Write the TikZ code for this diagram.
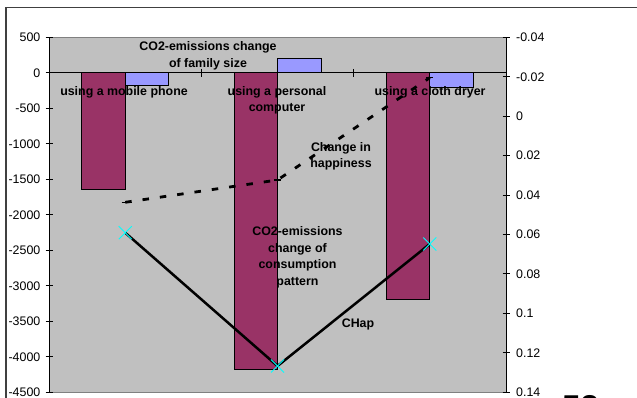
\documentclass[tikz,border=0pt]{standalone}
\usepackage{fontspec}
\setmainfont{Liberation Sans}
\definecolor{plotgray}{HTML}{C0C0C0}
\definecolor{plotedge}{HTML}{808080}
\definecolor{barmaroon}{HTML}{993366}
\definecolor{barblue}{HTML}{9999FF}
\definecolor{markcyan}{HTML}{00FFFF}
\definecolor{framecol}{HTML}{404040}
\begin{document}
\begin{tikzpicture}[x=1pt,y=-1pt,
  axisline/.style={black,line width=0.9pt},
  axislbl/.style={font=\fontsize{12.4}{14}\selectfont,inner sep=0pt},
  datalbl/.style={font=\fontsize{12.4}{16.5}\selectfont\bfseries,align=center,inner sep=0pt,anchor=north},
  barA/.style={fill=barmaroon,draw=black,line width=0.7pt},
  barB/.style={fill=barblue,draw=black,line width=0.7pt},
  hapline/.style={black,line width=2.8pt,dash pattern=on 6.5pt off 11pt},
  chapline/.style={black,line width=2.5pt,line join=round},
  xmark/.style={markcyan,line width=0.9pt},
  dashmark/.style={black,line width=1.5pt}]
\useasboundingbox (0,0) rectangle (637,398);
\clip (0,0) rectangle (637,398);

% outer frame
\draw[framecol,line width=1.6pt] (5.8,400) -- (5.8,7.6) -- (640,7.6);

% plot area
\fill[plotgray] (49,37.3) rectangle (506,392.3);
\draw[plotedge,line width=0.8pt] (49,37.3) -- (506,37.3);
\draw[plotedge,line width=0.8pt] (49,392.3) -- (506,392.3);

% bars: consumption pattern (maroon) and family size (blue)
\draw[barA] (81.7,72.8) rectangle (125.2,189.3);
\draw[barB] (125.2,72.8) rectangle (168.7,85);
\draw[barA] (234,72.8) rectangle (277.5,369.3);
\draw[barB] (277.5,58.7) rectangle (321,72.8);
\draw[barA] (386.3,72.8) rectangle (429.8,299);
\draw[barB] (429.8,72.8) rectangle (473.3,87.3);

% category axis at zero
\draw[axisline] (49,72.8) -- (506,72.8);
\foreach \cx in {201.4,353.6} \draw[axisline] (\cx,68.8) -- (\cx,76.8);

% value axes
\draw[axisline] (49,37.3) -- (49,392.3);
\draw[axisline] (506,37.3) -- (506,392.3);
\foreach \lbl [count=\i from 0] in {500,0,-500,-1000,-1500,-2000,-2500,-3000,-3500,-4000,-4500} {
  \draw[axisline] (45.5,{37.3+35.5*\i}) -- (52.5,{37.3+35.5*\i});
  \node[axislbl,anchor=east] (ll\i) at (40.5,{37.3+35.5*\i}) {\lbl};
}
\foreach \lbl [count=\i from 0] in {-0.04,-0.02,0,0.02,0.04,0.06,0.08,0.1,0.12,0.14} {
  \draw[axisline] (502.5,{37.3+39.44*\i}) -- (509.5,{37.3+39.44*\i});
  \node[axislbl,anchor=west] (rl\i) at (516,{37.3+39.44*\i}) {\lbl};
}

% data labels
\node[datalbl] (famsize) at (208,41.5) {CO2-emissions change\\of family size};
\node[datalbl] (phone) at (124,86.2) {using a mobile phone};
\node[datalbl] (computer) at (277,86.2) {using a personal\\computer};
\node[datalbl] (dryer) at (430,86.2) {using a cloth dryer};
\node[datalbl] (happy) at (341,142.2) {Change in\\happiness};
\node[datalbl] (consum) at (297.5,226.5) {CO2-emissions\\change of\\consumption\\pattern};
\node[datalbl] (chaplbl) at (358,318.2) {CHap};

% change in happiness series
\coordinate (h1) at (125.2,202.3);
\coordinate (h2) at (277.5,180);
\coordinate (h3) at (429.8,77.7);
\draw[hapline] (h1) -- (h2) -- (h3);
\foreach \p in {h1,h2,h3} \draw[dashmark] (\p) ++(-3.5,0) -- ++(7,0);

% CHap series
\coordinate (c1) at (125.2,232.7);
\coordinate (c2) at (277.5,366);
\coordinate (c3) at (429.8,244);
\draw[chapline] (c1) -- (c2) -- (c3);
\foreach \p in {c1,c2,c3} {
  \draw[xmark] (\p) ++(-6.5,-6.5) -- ++(13,13);
  \draw[xmark] (\p) ++(-6.5,6.5) -- ++(13,-13);
}

% page number, cut by the lower edge
\node[inner sep=0pt,anchor=north west,font=\fontsize{33}{36}\selectfont\bfseries] (pageno) at (562,395) {53};
\end{tikzpicture}
\end{document}
